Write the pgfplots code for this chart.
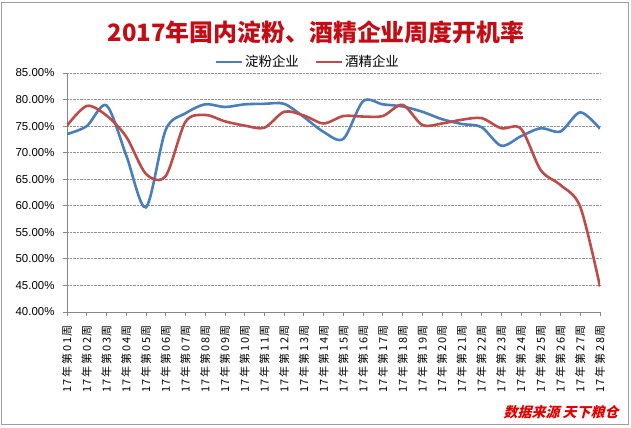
\documentclass[border=0pt]{standalone}
\usepackage{fontspec}
\setmainfont{Liberation Sans}
\newfontfamily\cjk{Noto Sans CJK SC}
\newfontfamily\cjkslant{Noto Sans CJK SC}[FakeSlant=0.25]
\newfontfamily\cjklab{Noto Sans CJK SC}[LetterSpace=16]
\usepackage{pgfplots}
\pgfplotsset{compat=1.18}

\definecolor{starch}{RGB}{74,126,187}
\definecolor{alcohol}{RGB}{190,75,72}
\definecolor{titlered}{RGB}{196,12,20}
\definecolor{srcred}{RGB}{228,0,0}
\definecolor{axisgray}{RGB}{134,134,134}

\begin{document}
\begin{tikzpicture}[x=1bp,y=1bp]
\useasboundingbox (0,0) rectangle (631,427);
\draw[axisgray!80, line width=1bp] (1.5,2.5) rectangle (628,424.5);
\node[font=\cjk\bfseries\fontsize{24}{28}\selectfont, text=titlered] at (316,395) {2017年国内淀粉、酒精企业周度开机率};
\node[font=\cjkslant\bfseries\fontsize{14}{16}\selectfont, text=srcred, anchor=east] at (622,15) {数据来源 天下粮仓};

\begin{axis}[
    at={(67bp,115bp)}, anchor=south west,
    scale only axis, width=533bp, height=239bp,
    xmin=0, xmax=27, ymin=40, ymax=85,
    axis x line*=bottom, axis y line*=left,
    axis line style={axisgray, line width=0.8bp},
    tick align=outside, major tick length=4bp,
    tick style={axisgray, line width=0.8bp},
    ytick={40,45,...,85},
    yticklabels={40.00\%,45.00\%,50.00\%,55.00\%,60.00\%,65.00\%,70.00\%,75.00\%,80.00\%,85.00\%},
    y tick label style={font=\fontsize{11.5}{12}\selectfont, xshift=-5bp},
    xtick={0,...,27},
    xticklabels={17年第01周,17年第02周,17年第03周,17年第04周,17年第05周,17年第06周,17年第07周,
      17年第08周,17年第09周,17年第10周,17年第11周,17年第12周,17年第13周,17年第14周,
      17年第15周,17年第16周,17年第17周,17年第18周,17年第19周,17年第20周,17年第21周,
      17年第22周,17年第23周,17年第24周,17年第25周,17年第26周,17年第27周,17年第28周},
    x tick label style={rotate=90, anchor=east, font=\cjklab\fontsize{11}{11}\selectfont, inner sep=2bp},
    xticklabel shift=7bp,
    ymajorgrids=true,
    grid style={densely dotted, axisgray!90, line width=0.8bp},
    legend columns=2,
    legend style={at={(0.452,1.046)}, anchor=center, draw=none, fill=none,
      font=\cjk\fontsize{13.5}{15}\selectfont, /tikz/every even column/.append style={column sep=14bp}},
    legend image code/.code={\draw[#1, line width=2.2bp] (0bp,0bp) -- (26bp,0bp);},
]

\addplot[color=starch, line width=2.6bp, smooth, tension=0.5] coordinates {
(0,73.5)(1,75.0)(2,78.9)(3,69.5)(4,59.7)(5,74.3)(6,77.4)(7,79.1)(8,78.6)(9,79.1)
(10,79.2)(11,79.2)(12,76.7)(13,73.9)(14,72.6)(15,79.7)(16,79.1)(17,78.7)(18,77.7)(19,76.3)
(20,75.4)(21,74.8)(22,71.3)(23,73.1)(24,74.6)(25,74.0)(26,77.6)(27,74.5)
};
\addlegendentry{淀粉企业}

\addplot[color=alcohol, line width=2.6bp, smooth, tension=0.5] coordinates {
(0,75.1)(1,78.8)(2,77.0)(3,73.0)(4,66.0)(5,65.6)(6,75.8)(7,77.1)(8,75.9)(9,75.1)
(10,74.7)(11,77.7)(12,77.0)(13,75.5)(14,76.9)(15,76.8)(16,76.9)(17,79.0)(18,75.2)(19,75.5)
(20,76.2)(21,76.5)(22,74.6)(23,74.5)(24,66.7)(25,63.9)(26,59.8)(27,44.8)
};
\addlegendentry{酒精企业}

\end{axis}
\end{tikzpicture}
\end{document}
